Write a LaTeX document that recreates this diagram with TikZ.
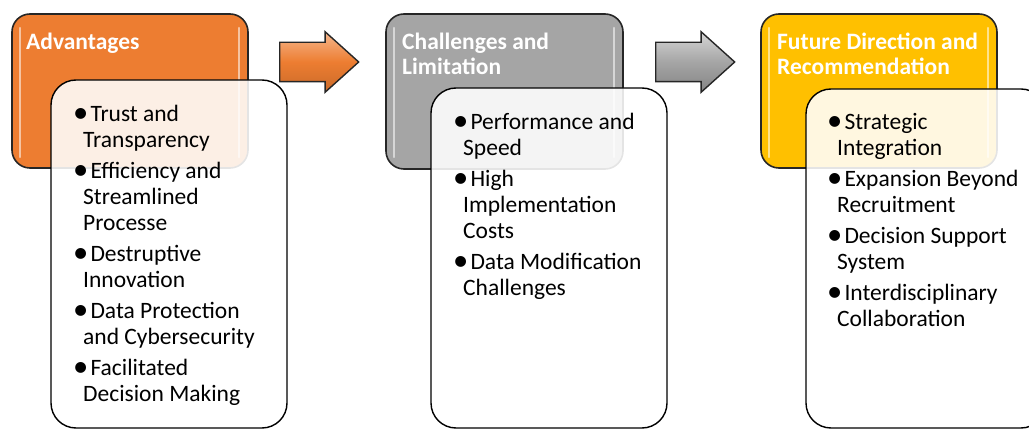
\documentclass[tikz,border=0pt]{standalone}
\usepackage{fontspec}
\setmainfont{Carlito}
\usepackage{graphicx}
\usepackage{tikz}
\usetikzlibrary{shapes.arrows}

\definecolor{advorange}{HTML}{ED7D31}
\definecolor{chlgrey}{HTML}{A5A5A5}
\definecolor{futyellow}{HTML}{FFC000}
\definecolor{edgedark}{HTML}{262626}

\newcommand{\bitem}[2]{\makebox[10pt][l]{\raisebox{-0.6pt}{\scalebox{1.3}{\textbullet}}} & \hspace{2pt}\ #1\\ & #2\\[5pt]}

\begin{document}
\begin{tikzpicture}[x=1pt,y=-1pt,
	colbox/.style={draw=edgedark,line width=1.6pt,rounded corners=18pt,inner sep=0pt},
	listbox/.style={draw=black,line width=1.4pt,rounded corners=25pt,fill=white,fill opacity=0.88,inner sep=0pt},
	gloss/.style={draw=white,line width=2.5pt,line cap=round,opacity=0.55},
	ttl/.style={anchor=base west,inner sep=0pt,text=white,font=\fontsize{23.5}{25}\selectfont\bfseries},
	lst/.style={anchor=base west,inner sep=0pt,text=black,font=\fontsize{23.5}{26}\selectfont},
	arr/.style={single arrow,draw=edgedark,line width=1.4pt,inner xsep=0pt,inner ysep=19pt,anchor=tail,
		minimum height=79pt,single arrow head extend=10.5pt,single arrow tip angle=84}]
	
	\useasboundingbox (0,0) rectangle (1029,430);
	\clip (0,0) rectangle (1029,430);
	
	% coloured heading boxes
	\node[colbox,fill=advorange,minimum width=236pt,minimum height=154pt] (advbox) at (130,91) {};
	\node[colbox,fill=chlgrey,minimum width=237pt,minimum height=155pt] (chlbox) at (504.5,91.5) {};
	\node[colbox,fill=futyellow,minimum width=236pt,minimum height=154pt] (futbox) at (879,91) {};
	
	\draw[gloss] (20,28) -- (20,157);
	\draw[gloss] (239,28) -- (239,157);
	\draw[gloss] (394,28) -- (394,157);
	\draw[gloss] (614,28) -- (614,157);
	\draw[gloss] (769,28) -- (769,157);
	\draw[gloss] (988,28) -- (988,157);
	
	\node[ttl] (advttl) at (26,50) {\begin{tabular}[t]{@{}l@{}}Advantages\end{tabular}};
	\node[ttl] (chlttl) at (402,50) {\begin{tabular}[t]{@{}l@{}}Challenges and\\Limitation\end{tabular}};
	\node[ttl] (futttl) at (777,50) {\begin{tabular}[t]{@{}l@{}}Future Direction and\\Recommendation\end{tabular}};
	
	% white list boxes
	\node[listbox,minimum width=236pt,minimum height=348pt] (advlst) at (169,254) {};
	\node[listbox,minimum width=236pt,minimum height=340pt] (chllst) at (549,258) {};
	\node[listbox,minimum width=240pt,minimum height=339pt] (futlst) at (926,258.5) {};
	
	\node[lst] (advtxt) at (73,122) {\begin{tabular}[t]{@{}l@{}l@{}}
			\bitem{Trust and}{Transparency}
			\bitem{Efficiency and}{Streamlined\\ & Processe}
			\bitem{Destruptive}{Innovation}
			\bitem{Data Protection}{and Cybersecurity}
			\bitem{Facilitated}{Decision Making}
		\end{tabular}};
	\node[lst] (chltxt) at (453,130) {\begin{tabular}[t]{@{}l@{}l@{}}
			\bitem{Performance and}{Speed}
			\bitem{High}{Implementation\\ & Costs}
			\bitem{Data Modification}{Challenges}
		\end{tabular}};
	\node[lst] (futtxt) at (827,130) {\begin{tabular}[t]{@{}l@{}l@{}}
			\bitem{Strategic}{Integration}
			\bitem{Expansion Beyond}{Recruitment}
			\bitem{Decision Support}{System}
			\bitem{Interdisciplinary}{Collaboration}
		\end{tabular}};
	
	% arrows between the stages
	\node[arr,top color=advorange!55!white,bottom color=advorange!85!black,middle color=advorange] (arrA) at (279,62) {};
	\node[arr,top color=chlgrey!45!white,bottom color=chlgrey!80!black,middle color=chlgrey] (arrB) at (655,62) {};
	
\end{tikzpicture}
\end{document}
